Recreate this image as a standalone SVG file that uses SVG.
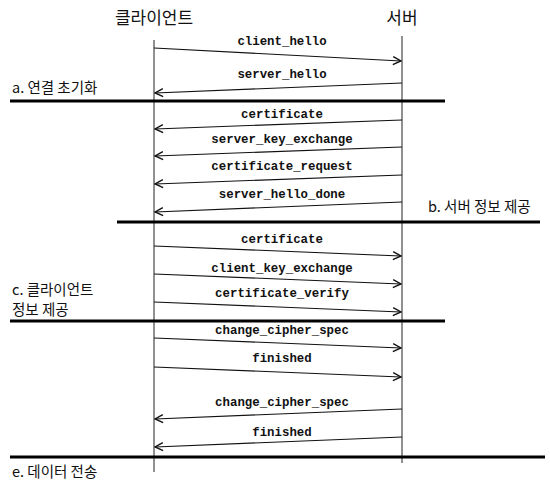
<svg xmlns="http://www.w3.org/2000/svg" width="550" height="484" viewBox="0 0 550 484">
<defs>
<marker id="ah" markerWidth="10" markerHeight="10" refX="9" refY="5" orient="auto" markerUnits="userSpaceOnUse">
<path d="M1,1 L9,5 L1,9" fill="none" stroke="#111" stroke-width="1.4"/>
</marker>
<style>
.kr{font-family:"Noto Sans CJK KR","Noto Sans",sans-serif;fill:#111}
.lbl{font-size:14.5px}
.msg{font-family:"Liberation Mono","DejaVu Sans Mono",monospace;font-weight:bold;font-size:12.4px;fill:#111;text-anchor:middle}
.life{stroke:#222;stroke-width:1;fill:none}
.sep{stroke:#000;stroke-width:3.2;fill:none}
.arr{stroke:#111;stroke-width:1.1;fill:none;marker-end:url(#ah)}
</style>
</defs>
<rect width="550" height="484" fill="#fff"/>
<g id="client">
<text class="kr" x="154" y="24" font-size="17" text-anchor="middle">클라이언트</text>
<line class="life" x1="154" y1="40" x2="154" y2="472"/>
</g>
<g id="server">
<text class="kr" x="402" y="24" font-size="17" text-anchor="middle">서버</text>
<line class="life" x1="402" y1="36" x2="402" y2="463"/>
</g>
<g id="phase-a">
<text class="kr lbl" x="12" y="93">a. 연결 초기화</text>
<line class="sep" x1="10" y1="101" x2="445" y2="101"/>
</g>
<g id="phase-b">
<text class="kr lbl" x="428" y="212">b. 서버 정보 제공</text>
<line class="sep" x1="117" y1="222" x2="540" y2="222"/>
</g>
<g id="phase-c">
<text class="kr lbl" x="12" y="295">c. 클라이언트</text>
<text class="kr lbl" x="12" y="315">정보 제공</text>
<line class="sep" x1="10" y1="321" x2="445" y2="321"/>
</g>
<g id="phase-e">
<line class="sep" x1="10" y1="457" x2="545" y2="457"/>
<text class="kr lbl" x="12" y="477">e. 데이터 전송</text>
</g>
<g id="connectors">
<line class="arr" x1="154" y1="48" x2="401" y2="61"/>
<text class="msg" x="282" y="45">client_hello</text>
<line class="arr" x1="402" y1="83" x2="155" y2="93"/>
<text class="msg" x="282" y="78">server_hello</text>
<line class="arr" x1="402" y1="120" x2="155" y2="129"/>
<text class="msg" x="282" y="118">certificate</text>
<line class="arr" x1="402" y1="147" x2="155" y2="156"/>
<text class="msg" x="282" y="143">server_key_exchange</text>
<line class="arr" x1="402" y1="175" x2="155" y2="184"/>
<text class="msg" x="282" y="170">certificate_request</text>
<line class="arr" x1="402" y1="202" x2="155" y2="212"/>
<text class="msg" x="282" y="198">server_hello_done</text>
<line class="arr" x1="154" y1="246" x2="401" y2="256"/>
<text class="msg" x="282" y="243">certificate</text>
<line class="arr" x1="154" y1="274" x2="401" y2="284"/>
<text class="msg" x="282" y="272">client_key_exchange</text>
<line class="arr" x1="154" y1="302" x2="401" y2="312"/>
<text class="msg" x="282" y="297">certificate_verify</text>
<line class="arr" x1="154" y1="338" x2="401" y2="348"/>
<text class="msg" x="282" y="334">change_cipher_spec</text>
<line class="arr" x1="154" y1="367" x2="401" y2="377"/>
<text class="msg" x="282" y="362">finished</text>
<line class="arr" x1="402" y1="409" x2="155" y2="419"/>
<text class="msg" x="282" y="406">change_cipher_spec</text>
<line class="arr" x1="402" y1="437" x2="155" y2="447"/>
<text class="msg" x="282" y="436">finished</text>
</g>
</svg>
